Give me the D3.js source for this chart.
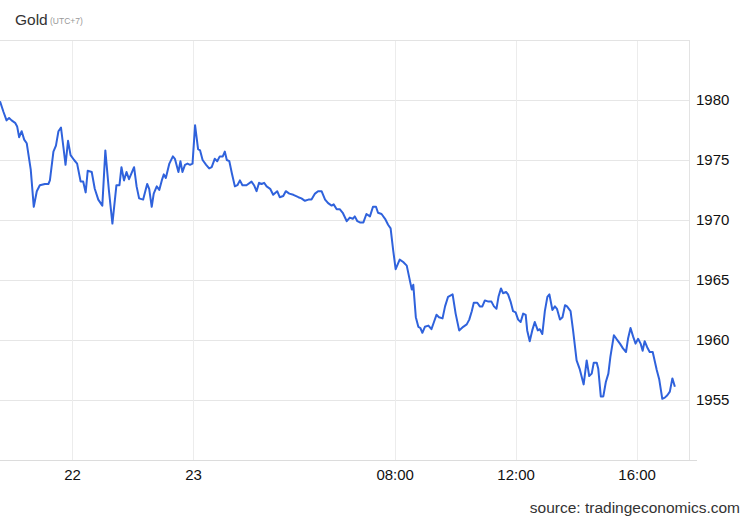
<!DOCTYPE html>
<html>
<head>
<meta charset="utf-8">
<script src="https://cdn.jsdelivr.net/npm/d3@7"></script>
<style>
  body { margin: 0; background: #fff; }
  svg { font-family: "Liberation Sans", Arial, sans-serif; }
</style>
</head>
<body>
<div id="chart"></div>
<script>
// minutes along the chart's (session) time axis, from its left edge
const minutes = [
  0, 7, 13, 18, 23, 30, 34, 38, 43, 48, 53, 61, 67, 73, 79, 89, 96, 99, 106, 111,
  116, 121, 126, 130, 135, 140, 147, 153, 160, 165, 170, 174, 182, 188, 195, 203, 209, 216, 223, 231,
  237, 241, 246, 251, 256, 266, 271, 276, 284, 292, 296, 301, 305, 311, 316, 321, 325, 329, 336, 343,
  347, 354, 358, 362, 367, 372, 377, 382, 387, 393, 397, 402, 409, 415, 420, 426, 431, 436, 442, 446,
  450, 455, 460, 466, 471, 476, 481, 489, 499, 504, 509, 514, 519, 524, 529, 536, 542, 550, 555, 562,
  567, 574, 582, 592, 598, 605, 612, 618, 625, 631, 638, 645, 651, 658, 662, 668, 674, 680, 688, 694,
  700, 704, 709, 714, 721, 727, 734, 740, 746, 750, 757, 764, 770, 775, 780, 785, 793, 800, 807, 812,
  817, 820, 825, 830, 834, 838, 843, 850, 856, 861, 866, 871, 878, 883, 889, 898, 904, 911, 919, 926,
  931, 936, 940, 947, 952, 957, 962, 969, 975, 980, 985, 989, 994, 998, 1004, 1008, 1013, 1018, 1023, 1028,
  1033, 1038, 1043, 1046, 1051, 1056, 1061, 1067, 1071, 1076, 1081, 1086, 1090, 1096, 1101, 1105, 1111, 1116, 1121, 1125,
  1132, 1137, 1144, 1150, 1158, 1164, 1169, 1174, 1178, 1184, 1187, 1192, 1197, 1202, 1207, 1211, 1218, 1223, 1230, 1236,
  1242, 1246, 1251, 1256, 1261, 1266, 1271, 1275, 1279, 1284, 1289, 1295, 1303, 1308, 1314, 1319, 1324, 1329, 1334, 1339
];

const prices = [
  1979.9, 1979.0, 1978.3, 1978.5, 1978.3, 1978.1, 1977.8, 1976.9, 1977.4, 1976.7, 1976.4, 1974.2, 1971.1, 1972.4, 1972.9, 1973.0, 1973.0, 1973.3, 1975.7, 1976.2,
  1977.4, 1977.7, 1976.0, 1974.6, 1976.6, 1975.4, 1975.0, 1974.7, 1973.2, 1973.2, 1972.3, 1974.1, 1974.0, 1972.6, 1971.7, 1971.2, 1975.8, 1972.5, 1969.7, 1972.9,
  1972.9, 1974.4, 1973.3, 1974.0, 1973.4, 1974.4, 1972.8, 1971.8, 1971.7, 1973.0, 1972.6, 1971.1, 1972.2, 1972.8, 1972.5, 1973.3, 1973.8, 1973.5, 1974.7, 1975.3,
  1975.1, 1974.0, 1974.9, 1974.0, 1974.6, 1974.7, 1974.6, 1974.7, 1977.9, 1975.9, 1975.8, 1975.0, 1974.6, 1974.3, 1974.4, 1975.1, 1974.9, 1975.3, 1975.3, 1975.7,
  1975.0, 1974.9, 1973.9, 1972.8, 1972.9, 1973.3, 1972.9, 1972.9, 1973.2, 1972.9, 1972.4, 1973.1, 1973.0, 1973.1, 1972.8, 1972.6, 1972.1, 1972.4, 1971.9, 1972.0,
  1972.4, 1972.2, 1972.1, 1971.9, 1971.8, 1971.6, 1971.7, 1971.7, 1972.2, 1972.4, 1972.4, 1971.7, 1971.4, 1971.2, 1971.3, 1970.9, 1970.9, 1970.6, 1969.9, 1970.2,
  1970.1, 1970.3, 1969.9, 1969.8, 1969.8, 1970.5, 1970.3, 1971.1, 1971.1, 1970.6, 1970.5, 1970.1, 1969.6, 1969.3, 1967.5, 1965.9, 1966.7, 1966.5, 1966.2, 1965.2,
  1964.2, 1964.6, 1961.9, 1961.1, 1961.0, 1960.6, 1961.1, 1961.2, 1960.9, 1961.5, 1962.1, 1961.9, 1961.8, 1962.8, 1963.6, 1963.8, 1962.2, 1960.8, 1961.1, 1961.3,
  1961.7, 1962.4, 1963.1, 1963.1, 1962.8, 1962.8, 1963.3, 1963.2, 1963.2, 1962.8, 1962.6, 1963.6, 1964.3, 1963.9, 1964.0, 1963.8, 1963.2, 1962.4, 1962.3, 1961.7,
  1961.5, 1962.2, 1962.1, 1960.8, 1959.9, 1960.8, 1961.5, 1960.8, 1960.9, 1960.5, 1962.4, 1963.6, 1963.8, 1962.5, 1962.8, 1962.6, 1961.7, 1961.9, 1962.9, 1962.8,
  1962.4, 1960.8, 1958.3, 1957.6, 1956.3, 1958.3, 1957.0, 1957.2, 1958.1, 1958.1, 1957.6, 1955.3, 1955.3, 1956.5, 1957.2, 1958.6, 1960.4, 1960.1, 1959.7, 1959.3,
  1959.0, 1960.1, 1961.0, 1960.3, 1959.7, 1960.1, 1959.7, 1959.1, 1959.9, 1959.4, 1959.0, 1959.0, 1957.5, 1956.7, 1955.1, 1955.2, 1955.4, 1955.7, 1956.8, 1956.1
];

const xTickMinutes = [143, 383, 783, 1023, 1263];
const xTickLabels = ["22", "23", "08:00", "12:00", "16:00"];
const yTicks = [1955, 1960, 1965, 1970, 1975, 1980];

const width = 750, height = 520;
const plot = { left: 0, right: 689, top: 40, bottom: 460 };

const svg = d3.select("#chart")
  .append("svg")
  .attr("width", width)
  .attr("height", height);

const x = d3.scaleLinear()
  .domain([0, 1367])
  .range([plot.left, plot.right]);

const y = d3.scaleLinear()
  .domain([1950, 1985])
  .range([plot.bottom, plot.top]);

// header
svg.append("text")
  .attr("x", 15)
  .attr("y", 25)
  .attr("font-size", 15.5)
  .attr("fill", "#333")
  .text("Gold");
svg.append("text")
  .attr("x", 50)
  .attr("y", 24)
  .attr("font-size", 8.5)
  .attr("fill", "#999")
  .text("(UTC+7)");

// horizontal grid
svg.append("g")
  .selectAll("line")
  .data(yTicks)
  .enter()
  .append("line")
  .attr("x1", plot.left)
  .attr("x2", plot.right)
  .attr("y1", d => y(d) + 0.5)
  .attr("y2", d => y(d) + 0.5)
  .attr("stroke", "#e6e6e6");

// vertical grid
svg.append("g")
  .selectAll("line")
  .data(xTickMinutes)
  .enter()
  .append("line")
  .attr("x1", d => Math.round(x(d)) + 0.5)
  .attr("x2", d => Math.round(x(d)) + 0.5)
  .attr("y1", plot.top)
  .attr("y2", plot.bottom)
  .attr("stroke", "#ececec");

// frame lines
svg.append("line")
  .attr("x1", 0).attr("x2", plot.right)
  .attr("y1", plot.top + 0.5).attr("y2", plot.top + 0.5)
  .attr("stroke", "#e3e3e3");
svg.append("line")
  .attr("x1", plot.right + 0.5).attr("x2", plot.right + 0.5)
  .attr("y1", plot.top).attr("y2", plot.bottom)
  .attr("stroke", "#e3e3e3");
svg.append("line")
  .attr("x1", 0).attr("x2", plot.right + 8)
  .attr("y1", plot.bottom + 0.5).attr("y2", plot.bottom + 0.5)
  .attr("stroke", "#dcdcdc");

// y axis on the right
const yAxis = svg.append("g")
  .attr("transform", `translate(${plot.right},0)`)
  .call(d3.axisRight(y).tickValues(yTicks).tickSize(0).tickPadding(7).tickFormat(d3.format("d")));
yAxis.select(".domain").remove();
yAxis.selectAll("text").attr("font-size", 15).attr("fill", "#111")
  .attr("font-family", "'Liberation Sans', Arial, sans-serif");

// x axis
const xAxis = svg.append("g")
  .attr("transform", `translate(0,${plot.bottom})`)
  .call(d3.axisBottom(x).tickValues(xTickMinutes).tickSize(0).tickPadding(9)
    .tickFormat((d, i) => xTickLabels[i]));
xAxis.select(".domain").remove();
xAxis.selectAll("text").attr("font-size", 15).attr("fill", "#111")
  .attr("font-family", "'Liberation Sans', Arial, sans-serif");

// price line
const line = d3.line()
  .x((d, i) => x(minutes[i]))
  .y(d => y(d));

svg.append("path")
  .datum(prices)
  .attr("fill", "none")
  .attr("stroke", "#2f62dc")
  .attr("stroke-width", 2)
  .attr("stroke-linejoin", "round")
  .attr("d", line);

// source
svg.append("text")
  .attr("x", 740)
  .attr("y", 513)
  .attr("text-anchor", "end")
  .attr("font-size", 15.5)
  .attr("fill", "#333")
  .text("source: tradingeconomics.com");
</script>
</body>
</html>
